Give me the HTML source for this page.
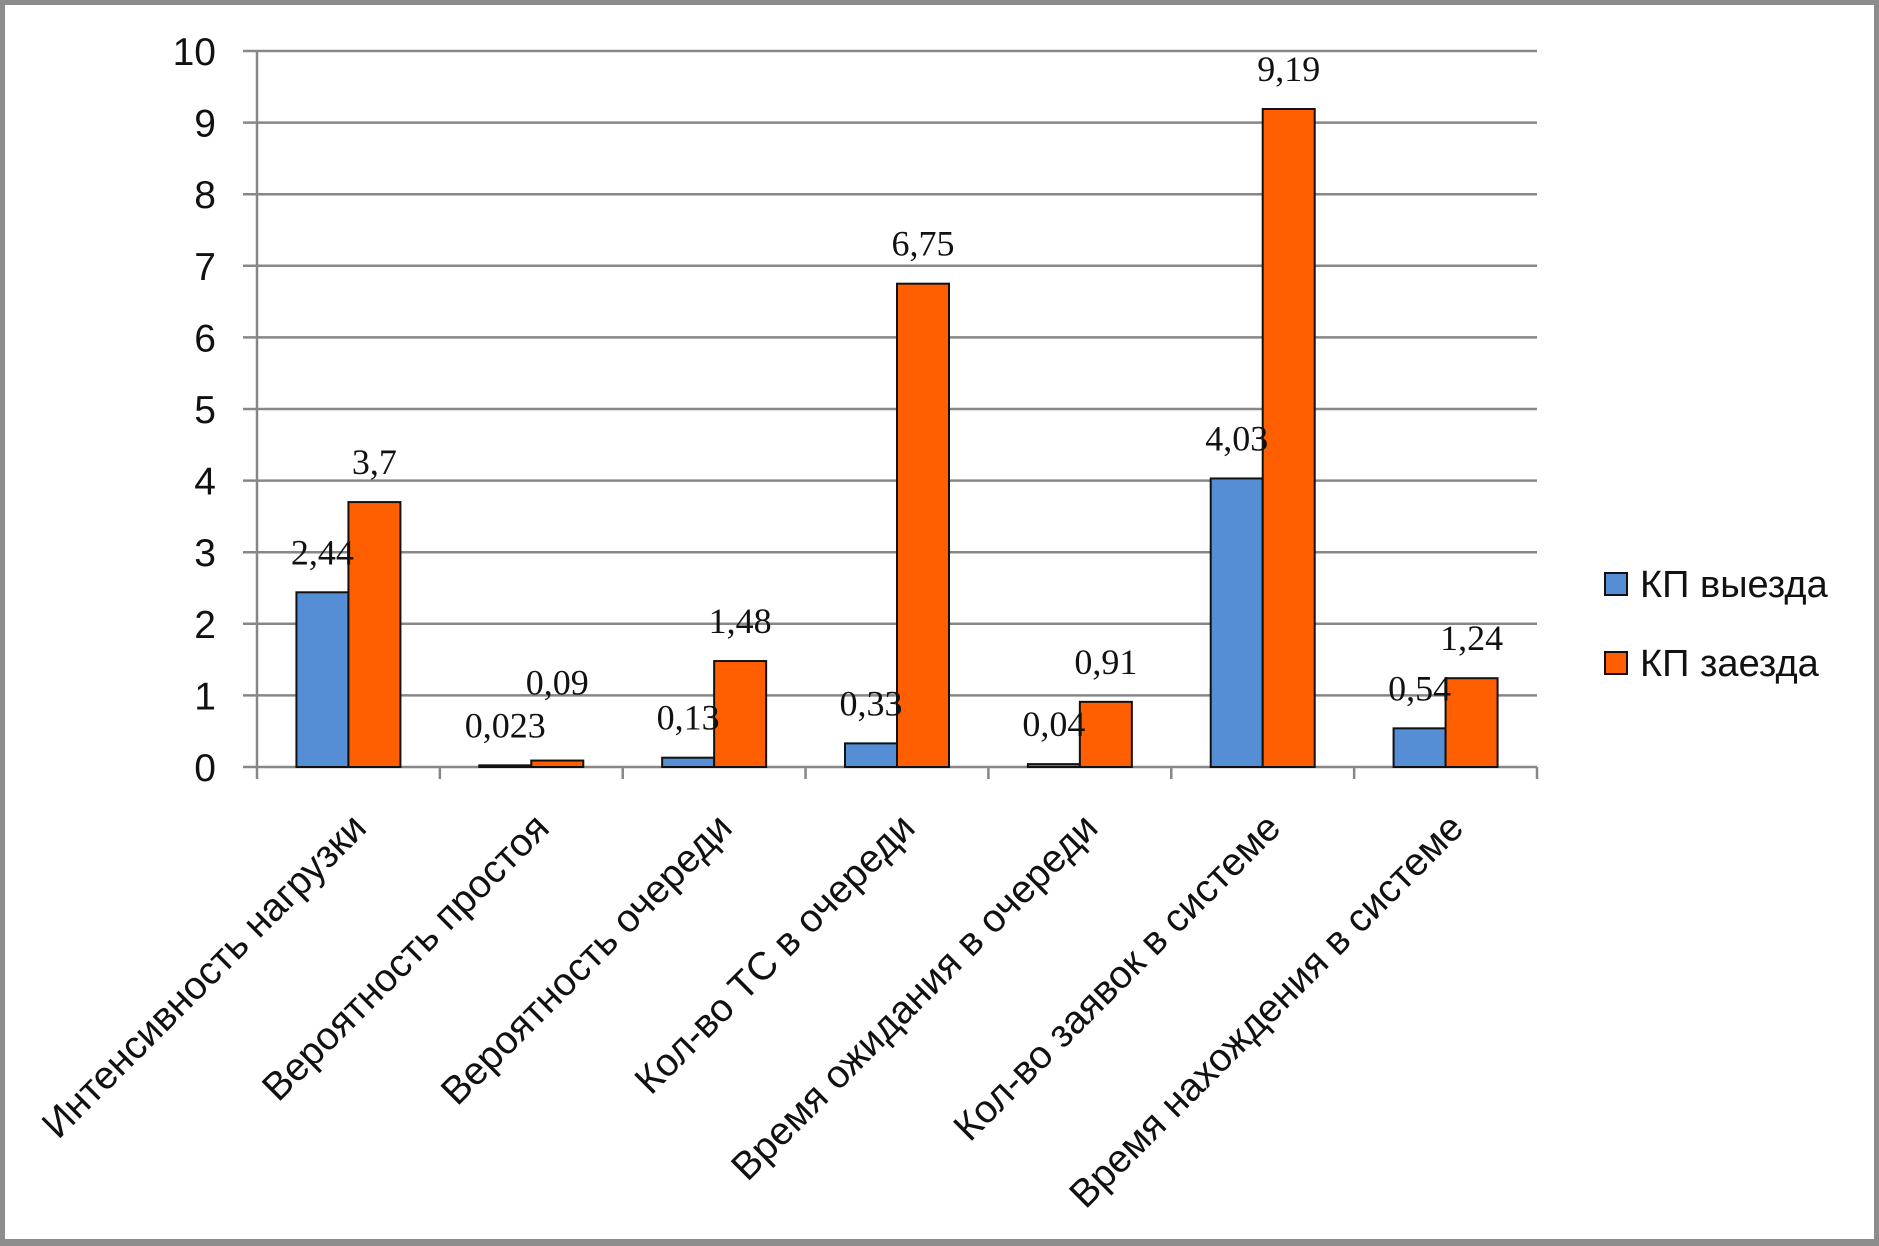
<!DOCTYPE html>
<html><head><meta charset="utf-8"><style>
html,body{margin:0;padding:0;background:#fff;}
#wrap{position:relative;width:1879px;height:1246px;box-sizing:border-box;border:5px solid #8c8c8c;border-bottom-width:7px;background:#fff;overflow:hidden;}
svg{position:absolute;left:-5px;top:-5px;}
</style></head><body>
<div id="wrap">
<svg id="chart" width="1879" height="1246"></svg>
</div>
<script>
const categories = ["Интенсивность нагрузки","Вероятность простоя","Вероятность очереди","Кол-во ТС в очереди","Время ожидания в очереди","Кол-во заявок в системе","Время нахождения в системе"];
const seriesNames = ["КП выезда","КП заезда"];
const exitValues = [2.44,0.023,0.13,0.33,0.04,4.03,0.54];
const entryValues = [3.7,0.09,1.48,6.75,0.91,9.19,1.24];
const exitLabels = ["2,44","0,023","0,13","0,33","0,04","4,03","0,54"];
const entryLabels = ["3,7","0,09","1,48","6,75","0,91","9,19","1,24"];
const yTicks = [0,1,2,3,4,5,6,7,8,9,10];

const NS="http://www.w3.org/2000/svg";
const svg=document.getElementById('chart');
const X0=257,X1=1537,Y0=767,Y10=51,YMAX=10;
const catW=(X1-X0)/categories.length;
const barW=52;
function y(v){return Y0-(v/YMAX)*(Y0-Y10);}
function cx(i){return X0+catW*(i+0.5);}
function mk(tag,attrs){const e=document.createElementNS(NS,tag);for(const k in attrs)e.setAttribute(k,attrs[k]);svg.appendChild(e);return e;}

yTicks.forEach(t=>{
  const g=mk('line',{x1:243,x2:X1,y1:y(t),y2:y(t),stroke:'#878787','stroke-width':2.5});
  
  
  const tx=mk('text',{x:216,y:y(t)+14,'text-anchor':'end','font-family':'Liberation Sans, sans-serif','font-size':39,fill:'#111'});
  tx.textContent=String(t);
  
  
});
const ax=mk('line',{x1:X0,x2:X0,y1:Y10,y2:Y0+12,stroke:'#878787','stroke-width':2.5});


for(let i=1;i<=categories.length;i++){
  const tk=mk('line',{x1:X0+catW*i,x2:X0+catW*i,y1:Y0,y2:Y0+12,stroke:'#878787','stroke-width':2.5});
  
  
}

categories.forEach((c,i)=>{
  const bx=cx(i)-barW;
  const b1=mk('rect',{x:bx,y:y(exitValues[i]),width:barW,height:Y0-y(exitValues[i]),fill:'#558ed5',stroke:'#111','stroke-width':2});
  
  
  const b2=mk('rect',{x:bx+barW,y:y(entryValues[i]),width:barW,height:Y0-y(entryValues[i]),fill:'#ff5f00',stroke:'#111','stroke-width':2});
  
  
  const ly1=y(exitValues[i])-28;
  let ly2=y(entryValues[i])-28;
  if(Math.abs(ly2-ly1)<38) ly2=ly1-43;
  const l1=mk('text',{x:bx+barW/2,y:ly1,'text-anchor':'middle','font-family':'Liberation Serif, serif','font-size':36,fill:'#111'});
  l1.textContent=exitLabels[i];
  
  
  const l2=mk('text',{x:bx+barW*1.5,y:ly2,'text-anchor':'middle','font-family':'Liberation Serif, serif','font-size':36,fill:'#111'});
  l2.textContent=entryLabels[i];
  
  
  const ax2=cx(i)+20, ay2=830;
  const cl=mk('text',{x:ax2,y:ay2,'text-anchor':'end','font-family':'Liberation Sans, sans-serif','font-size':39,fill:'#111',transform:`rotate(-45 ${ax2} ${ay2})`});
  cl.textContent=c;
  
  
});

const legColors=['#558ed5','#ff5f00'];
seriesNames.forEach((n,i)=>{
  const yy=573+i*79;
  const sq=mk('rect',{x:1605,y:yy,width:22,height:22,fill:legColors[i],stroke:'#111','stroke-width':2});
  
  
  const t=mk('text',{x:1640,y:yy+24,'font-family':'Liberation Sans, sans-serif','font-size':38,fill:'#111'});
  t.textContent=n;
  
  
});
</script>
</body></html>
